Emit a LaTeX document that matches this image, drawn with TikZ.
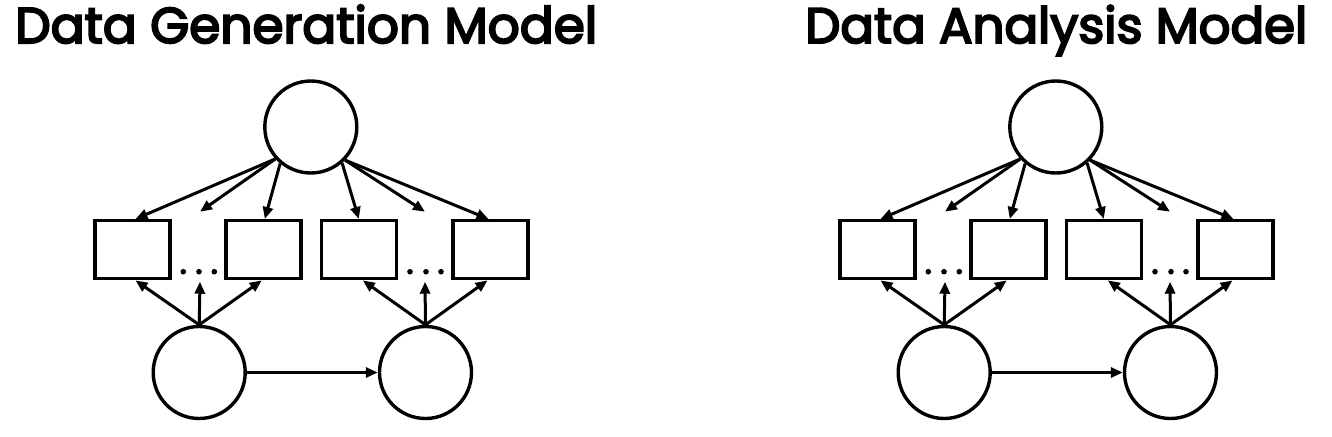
\documentclass[tikz,border=0pt]{standalone}
\usepackage{fontspec}
\usepackage{graphicx}
\setmainfont{Poppins}
\newfontfamily\titlefont{Poppins}[FakeBold=4]
\usetikzlibrary{arrows.meta}
\tikzset{
  latent/.style={circle, draw, line width=3.4pt, minimum size=92pt, inner sep=0pt},
  obs/.style={rectangle, draw, line width=3.4pt, minimum width=75pt, minimum height=58pt, inner sep=0pt},
  edge/.style={line width=3pt, -{Triangle[length=12pt,width=10pt]}},
  title/.style={anchor=base west, inner sep=0pt, font=\fontsize{40}{44}\titlefont}
}
\newcommand{\modelgraph}{%
  \node[latent] (top) at (310.8,127) {};
  \node[obs] (b1) at (132.5,249.7) {};
  \node[obs] (b2) at (263.3,249.7) {};
  \node[obs] (b3) at (358.8,249.7) {};
  \node[obs] (b4) at (490.5,249.7) {};
  \node[latent] (l1) at (199.2,372.5) {};
  \node[latent] (l2) at (425.5,372.5) {};
  \coordinate (dt1) at (200,211.7);
  \coordinate (dt2) at (425,211.7);
  \coordinate (db1) at (200,281.7);
  \coordinate (db2) at (425,281.7);
  \fill (183.3,271.7) circle[radius=2.8pt] (199,271.7) circle[radius=2.8pt] (214.3,271.7) circle[radius=2.8pt];
  \fill (410,271.7) circle[radius=2.8pt] (426,271.7) circle[radius=2.8pt] (441,271.7) circle[radius=2.8pt];
  \draw[edge] (top.-138) -- ([xshift=3pt]b1.north);
  \draw[edge] (top.-138) -- (dt1);
  \draw[edge] (top.-130) -- ([xshift=1.5pt]b2.north);
  \draw[edge] (top.-49) -- (b3.north);
  \draw[edge] (top.-44) -- (dt2);
  \draw[edge] (top.-44) -- ([xshift=-2pt]b4.north);
  \draw[edge] (l1.north) -- ([xshift=3pt]b1.south);
  \draw[edge] (l1.north) -- (db1);
  \draw[edge] (l1.north) -- ([xshift=-1.5pt]b2.south);
  \draw[edge] (l2.north) -- ([xshift=4pt]b3.south);
  \draw[edge] (l2.north) -- (db2);
  \draw[edge] (l2.north) -- ([xshift=-3pt]b4.south);
  \draw[edge] (l1.east) -- (l2.west);
}
\begin{document}
\begin{tikzpicture}[x=1pt, y=-1pt]
  \useasboundingbox (0,0) rectangle (1332,436);
  \node[title] (t1) at (15,43) {\resizebox{582pt}{!}{Data Generation Model}};
  \node[title] (t2) at (805,43) {\resizebox{502pt}{!}{Data Analysis Model}};
  \begin{scope}[name prefix=L-]
    \modelgraph
  \end{scope}
  \begin{scope}[xshift=745pt, name prefix=R-]
    \modelgraph
  \end{scope}
\end{tikzpicture}
\end{document}
